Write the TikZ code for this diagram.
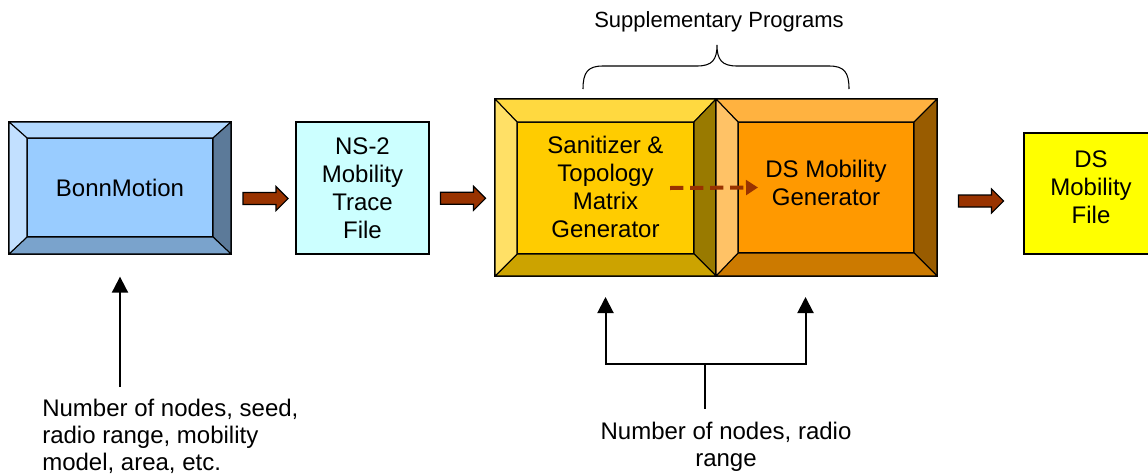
\documentclass[tikz,border=0pt]{standalone}
\usepackage{fontspec}
\setmainfont{Liberation Sans}
\usepackage{tikz}
\usetikzlibrary{arrows.meta,positioning,calc,shapes.arrows}
\definecolor{bonnblue}{RGB}{153,204,255}
\definecolor{traceaqua}{RGB}{204,255,255}
\definecolor{sanyellow}{RGB}{255,204,0}
\definecolor{genorange}{RGB}{255,153,0}
\definecolor{fileyellow}{RGB}{255,255,0}
\definecolor{arrowbrown}{RGB}{153,51,0}
\tikzset{
  outerbox/.style={draw=black, line width=0.8pt, outer sep=0pt, inner sep=0pt},
  innerbox/.style={draw=black, line width=0.8pt, outer sep=0pt, inner sep=0pt, align=center, font=\fontsize{18}{21}\selectfont},
  bevel/.style={draw=black, line width=0.8pt, line join=round},
  blockarrow/.style={single arrow, draw=black, fill=arrowbrown, line width=0.8pt, minimum height=33.75pt, minimum width=17.25pt, single arrow head extend=4.5pt, inner xsep=0pt, inner ysep=4.1pt, outer sep=0pt},
  inarrow/.style={-{Triangle[length=12pt,width=12pt]}, line width=1.5pt},
  dashline/.style={-{Triangle[length=9pt,width=11pt]}, draw=arrowbrown, line width=3pt, dash pattern=on 10pt off 5pt},
  notelabel/.style={font=\fontsize{18}{20}\selectfont, inner sep=0pt},
  figtitle/.style={font=\fontsize{16.5}{19}\selectfont}
}
\begin{document}
\begin{tikzpicture}[x=0.75pt,y=-0.75pt]
  \useasboundingbox (0,0) rectangle (1148,475);
  \clip (0,0) rectangle (1148,475);

  % BonnMotion
  \node[outerbox, minimum width=166.5pt, minimum height=99pt] (bonn) at (120,188) {};
  \node[innerbox, fill=bonnblue, minimum width=139.5pt, minimum height=74.25pt] (bonnIn) at (120,187.5) {BonnMotion};
  \filldraw[bevel, fill=bonnblue!75!white] (bonn.north west) -- (bonn.north east) -- (bonnIn.north east) -- (bonnIn.north west) -- cycle;
  \filldraw[bevel, fill=bonnblue!60!black] (bonn.north east) -- (bonn.south east) -- (bonnIn.south east) -- (bonnIn.north east) -- cycle;
  \filldraw[bevel, fill=bonnblue!80!black] (bonn.south east) -- (bonn.south west) -- (bonnIn.south west) -- (bonnIn.south east) -- cycle;
  \filldraw[bevel, fill=bonnblue!60!white] (bonn.south west) -- (bonn.north west) -- (bonnIn.north west) -- (bonnIn.south west) -- cycle;

  % trace file
  \node[innerbox, fill=traceaqua, minimum width=99.75pt, minimum height=99pt] (ns2) at (362.5,188) {NS-2\\Mobility\\Trace\\File};

  % supplementary programs
  \node[outerbox, minimum width=165.75pt, minimum height=132.75pt] (sanit) at (605.5,187.5) {};
  \node[innerbox, fill=sanyellow, minimum width=132.75pt, minimum height=99pt] (sanitIn) at (605.5,188) {Sanitizer \&\\Topology\\Matrix\\Generator\\[-19pt]};
  \filldraw[bevel, fill=sanyellow!75!white] (sanit.north west) -- (sanit.north east) -- (sanitIn.north east) -- (sanitIn.north west) -- cycle;
  \filldraw[bevel, fill=sanyellow!60!black] (sanit.north east) -- (sanit.south east) -- (sanitIn.south east) -- (sanitIn.north east) -- cycle;
  \filldraw[bevel, fill=sanyellow!80!black] (sanit.south east) -- (sanit.south west) -- (sanitIn.south west) -- (sanitIn.south east) -- cycle;
  \filldraw[bevel, fill=sanyellow!60!white] (sanit.south west) -- (sanit.north west) -- (sanitIn.north west) -- (sanitIn.south west) -- cycle;

  \node[outerbox, minimum width=165.75pt, minimum height=132.75pt] (dsgen) at (826.5,187.5) {};
  \node[innerbox, fill=genorange, minimum width=132pt, minimum height=98.25pt] (dsgenIn) at (826,187.5) {DS Mobility\\Generator\\[-13.5pt]};
  \filldraw[bevel, fill=genorange!75!white] (dsgen.north west) -- (dsgen.north east) -- (dsgenIn.north east) -- (dsgenIn.north west) -- cycle;
  \filldraw[bevel, fill=genorange!60!black] (dsgen.north east) -- (dsgen.south east) -- (dsgenIn.south east) -- (dsgenIn.north east) -- cycle;
  \filldraw[bevel, fill=genorange!80!black] (dsgen.south east) -- (dsgen.south west) -- (dsgenIn.south west) -- (dsgenIn.south east) -- cycle;
  \filldraw[bevel, fill=genorange!60!white] (dsgen.south west) -- (dsgen.north west) -- (dsgenIn.north west) -- (dsgenIn.south west) -- cycle;

  \draw[dashline] ($(sanitIn.east)+(-24,0)$) -- ($(dsgenIn.west)+(20,0)$);

  % output file
  \node[innerbox, fill=fileyellow, minimum width=100.5pt, minimum height=90.75pt] (dsfile) at (1091,193.5) {DS\\Mobility\\File\\[-11.25pt]};

  % block arrows
  \node[blockarrow] (arrA) at ($(bonn.east)!0.5!(ns2.west)+(-1,10.5)$) {};
  \node[blockarrow] (arrB) at ($(ns2.east)!0.5!(sanit.west)+(-2,10.5)$) {};
  \node[blockarrow] (arrC) at ($(dsgen.east)!0.5!(dsfile.west)+(-2.5,10.5)$) {};

  % brace and title
  \node[figtitle] (supp) at (719,22) {Supplementary Programs};
  \draw[line width=0.8pt] (583,89) .. controls (583,72) and (588,66) .. (603,66) -- (697,66) .. controls (712,66) and (717,60) .. (717,45) .. controls (717,60) and (722,66) .. (737,66) -- (829,66) .. controls (844,66) and (849,72) .. (849,89);

  % inputs
  \node[notelabel, anchor=north west, align=left] (bonnArgs) at (42,399) {Number of nodes, seed,\\radio range, mobility\\model, area, etc.};
  \draw[inarrow, shorten <=9pt, shorten >=17pt] (bonnArgs.north -| bonn.south) -- (bonn.south);

  \node[notelabel, anchor=north, align=center] (genArgs) at (726,422) {Number of nodes, radio\\range};
  \coordinate (fork) at (705,364);
  \draw[line width=1.5pt, shorten <=10pt] (genArgs.north -| fork) -- (fork);
  \draw[inarrow] (fork) -| ($(sanit.south)+(0,21)$);
  \draw[inarrow] (fork) -| ($(dsgen.south)+(-21,21)$);
\end{tikzpicture}
\end{document}
